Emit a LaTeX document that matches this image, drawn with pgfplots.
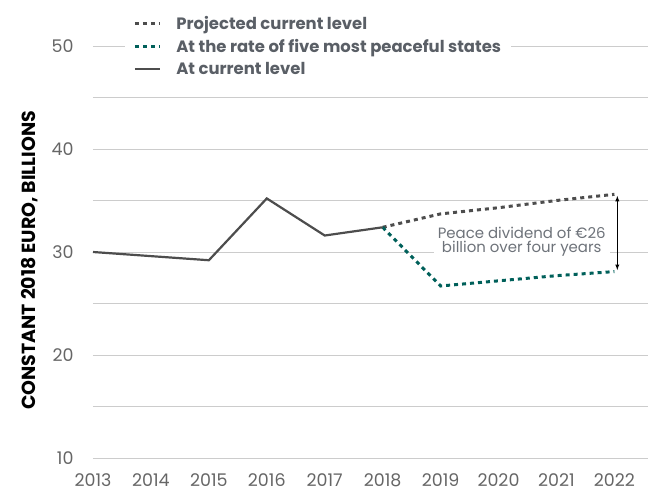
\documentclass[border=0pt]{standalone}
\usepackage{pgfplots}
\pgfplotsset{compat=1.18}
\usepackage{fontspec}
\setmainfont{Poppins}
\definecolor{linegray}{HTML}{4D4D4D}
\definecolor{peacegreen}{HTML}{00605A}
\definecolor{gridgray}{HTML}{CCCCCC}
\definecolor{ticktext}{HTML}{666666}
\definecolor{legtext}{HTML}{5A5F66}
\definecolor{notetext}{HTML}{6E737A}
\begin{document}
\begin{tikzpicture}
\useasboundingbox (-93bp,-35bp) rectangle (564bp,458bp);
\begin{axis}[
    scale only axis,
    width=555bp, height=412bp,
    xmin=2013, xmax=2022.58,
    ymin=10, ymax=50,
    xtick={2013,2014,...,2022},
    ytick={10,20,...,50},
    minor ytick={15,25,35,45},
    ymajorgrids, yminorgrids,
    major grid style={gridgray, line width=0.8bp},
    minor grid style={gridgray, line width=0.8bp},
    axis line style={draw=none},
    major tick length=0pt, minor tick length=0pt,
    /pgf/number format/1000 sep={},
    /pgf/number format/assume math mode=true,
    tick label style={font=\fontsize{17.5}{19}\selectfont, text=ticktext},
    xticklabel style={yshift=-12bp},
    yticklabel style={xshift=-16bp},
    ylabel={\textbf{CONSTANT 2018 EURO, BILLIONS}},
    ylabel style={font=\fontsize{19}{21}\selectfont, at={(rel axis cs:-0.1135,0.48)}, anchor=center},
    legend style={at={(rel axis cs:0.058,1.083)}, anchor=north west, draw=none, fill=white,
        font=\fontsize{16.5}{18}\selectfont\bfseries, text=legtext, row sep=4.5bp,
        inner xsep=8bp, inner ysep=2bp,
        /tikz/every odd column/.append style={column sep=13bp}},
    legend cell align={left},
    legend image code/.code={\draw[#1] (0bp,0bp) -- (25bp,0bp);},
    clip=false,
]
\addplot[linegray, line width=3bp, dash pattern=on 4bp off 4bp] coordinates {
    (2018, 32.4) (2019, 33.7) (2020, 34.3) (2021, 35.0) (2022, 35.6)
};
\addplot[peacegreen, line width=3bp, dash pattern=on 4bp off 4bp] coordinates {
    (2018, 32.4) (2019, 26.7) (2020, 27.2) (2021, 27.7) (2022, 28.1)
};
\addplot[linegray, line width=2.2bp] coordinates {
    (2013, 30.0) (2014, 29.6) (2015, 29.2) (2016, 35.2) (2017, 31.6) (2018, 32.4)
};
\legend{Projected current level, At the rate of five most peaceful states, At current level}
\draw[<->, >=latex, black, line width=0.9bp, shorten <=1bp, shorten >=1bp]
    (axis cs:2022.05,35.55) -- (axis cs:2022.05,28.15);
\node[fill=white, text=notetext, font=\fontsize{15}{15}\selectfont, align=center, inner xsep=4bp, inner ysep=1bp]
    at (axis cs:2020.4,31.0) {Peace dividend of €26\\billion over four years};
\end{axis}
\end{tikzpicture}
\end{document}
